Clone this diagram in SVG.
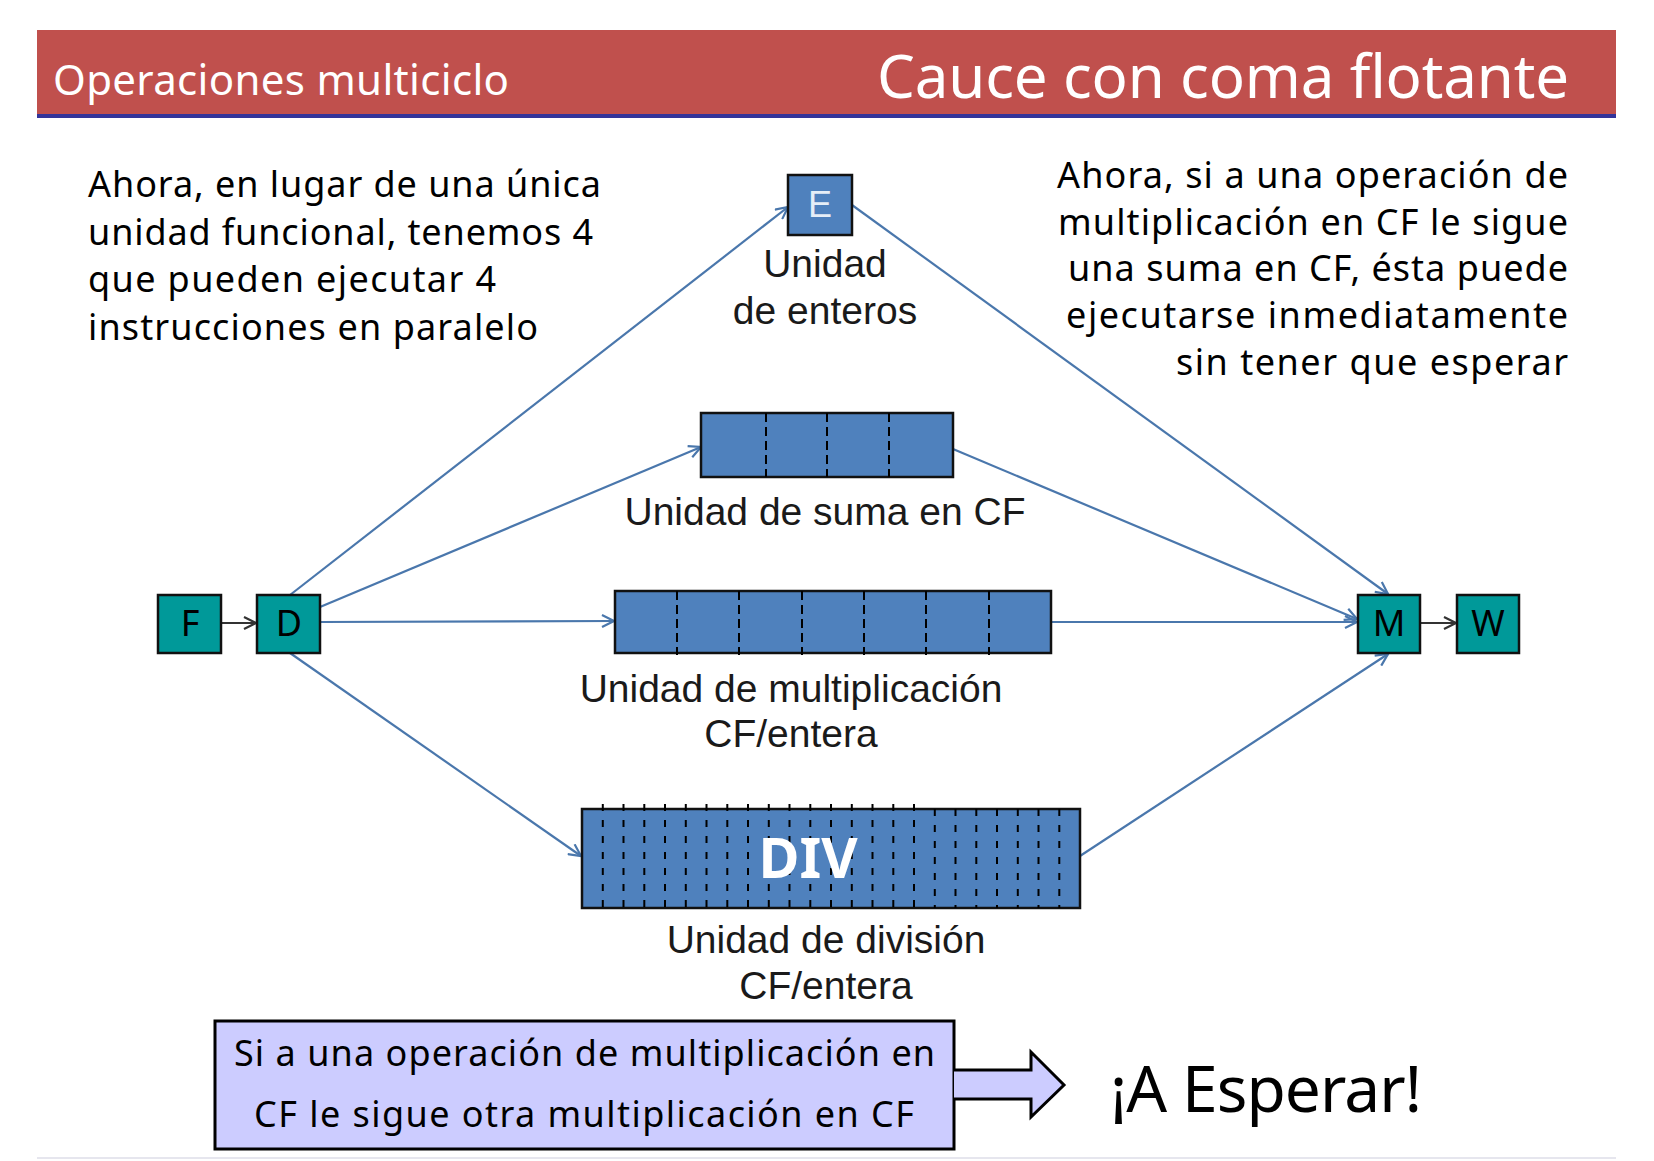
<svg xmlns="http://www.w3.org/2000/svg" width="1654" height="1161" viewBox="0 0 1654 1161">
<style>
.comic{font-family:"Comic Sans MS","Noto Sans",sans-serif;}
.arial{font-family:"Liberation Sans",Arial,sans-serif;fill:#1a1a1a;}
.teal{fill:#009999;stroke:#111;stroke-width:2.5;}
.blue{fill:#4F81BD;stroke:#111;stroke-width:2.5;}
.conn{stroke:#4A77AC;stroke-width:2.2;fill:none;}
.dark{stroke:#333;stroke-width:2.2;fill:none;}
.dash1{stroke:#000;stroke-width:2;stroke-dasharray:9 5;}
.dash2{stroke:#000;stroke-width:2;stroke-dasharray:7 9;}
.lbl{font-size:39px;text-anchor:middle;}
.par{font-size:36px;fill:#000;}
.stage{font-size:36px;fill:#000;text-anchor:middle;}
</style>
<defs>
<marker id="ab" viewBox="0 0 14 14" refX="13" refY="7" markerWidth="14" markerHeight="14" markerUnits="userSpaceOnUse" orient="auto">
<path d="M1,1 L13,7 L1,13" fill="none" stroke="#4A77AC" stroke-width="2.2"/>
</marker>
<marker id="ad" viewBox="0 0 14 14" refX="13" refY="7" markerWidth="14" markerHeight="14" markerUnits="userSpaceOnUse" orient="auto">
<path d="M1,1 L13,7 L1,13" fill="none" stroke="#333" stroke-width="2.2"/>
</marker>
</defs>
<rect width="1654" height="1161" fill="#fff"/>
<g id="header">
<rect x="37" y="30" width="1579" height="86" fill="#C0504D"/>
<rect x="37" y="114" width="1579" height="4" fill="#333399"/>
<text class="comic" x="53" y="95" font-size="42" fill="#fff" textLength="456">Operaciones multiciclo</text>
<text class="comic" x="877" y="98" font-size="60" fill="#fff" textLength="692">Cauce con coma flotante</text>
</g>
<g id="text-left" class="comic par">
<text x="88" y="197" textLength="513">Ahora, en lugar de una única</text>
<text x="88" y="245" textLength="505">unidad funcional, tenemos 4</text>
<text x="88" y="292" textLength="408">que pueden ejecutar 4</text>
<text x="88" y="340" textLength="450">instrucciones en paralelo</text>
</g>
<g id="text-right" class="comic par">
<text x="1057" y="188" textLength="511">Ahora, si a una operación de</text>
<text x="1058" y="235" textLength="510">multiplicación en CF le sigue</text>
<text x="1068" y="281" textLength="500">una suma en CF, ésta puede</text>
<text x="1066" y="328" textLength="502">ejecutarse inmediatamente</text>
<text x="1176" y="375" textLength="392">sin tener que esperar</text>
</g>
<g id="connectors">
<line class="dark" x1="221" y1="623" x2="256" y2="623" marker-end="url(#ad)"/>
<line class="dark" x1="1420" y1="623" x2="1456" y2="623" marker-end="url(#ad)"/>
<line class="conn" x1="290" y1="595" x2="788" y2="207" marker-end="url(#ab)"/>
<line class="conn" x1="852" y1="205" x2="1388" y2="594" marker-end="url(#ab)"/>
<line class="conn" x1="320" y1="607" x2="701" y2="447" marker-end="url(#ab)"/>
<line class="conn" x1="953" y1="449" x2="1357" y2="619" marker-end="url(#ab)"/>
<line class="conn" x1="320" y1="622" x2="614" y2="621" marker-end="url(#ab)"/>
<line class="conn" x1="1051" y1="622" x2="1357" y2="622" marker-end="url(#ab)"/>
<line class="conn" x1="290" y1="653" x2="581" y2="856" marker-end="url(#ab)"/>
<line class="conn" x1="1080" y1="856" x2="1388" y2="654" marker-end="url(#ab)"/>
</g>
<g id="node-F"><rect class="teal" x="158" y="595" width="63" height="58"/><text class="comic stage" x="190" y="636">F</text></g>
<g id="node-D"><rect class="teal" x="257" y="595" width="63" height="58"/><text class="comic stage" x="289" y="636">D</text></g>
<g id="node-M"><rect class="teal" x="1358" y="595" width="62" height="58"/><text class="comic stage" x="1389" y="636">M</text></g>
<g id="node-W"><rect class="teal" x="1457" y="595" width="62" height="58"/><text class="comic stage" x="1488" y="636">W</text></g>
<g id="node-E">
<rect class="blue" x="788" y="175" width="64" height="60"/>
<text class="arial" x="820" y="217" font-size="36" text-anchor="middle" style="fill:#E6EEF7">E</text>
<text class="arial lbl" x="825" y="277">Unidad</text>
<text class="arial lbl" x="825" y="324">de enteros</text>
</g>
<g id="node-suma">
<rect class="blue" x="701" y="413" width="252" height="64"/>
<line class="dash1" x1="766" y1="413" x2="766" y2="477"/>
<line class="dash1" x1="827" y1="413" x2="827" y2="477"/>
<line class="dash1" x1="889" y1="413" x2="889" y2="477"/>
<text class="arial lbl" x="825" y="525">Unidad de suma en CF</text>
</g>
<g id="node-mult">
<rect class="blue" x="615" y="591" width="436" height="62"/>
<line class="dash1" x1="677" y1="591" x2="677" y2="655"/>
<line class="dash1" x1="739" y1="591" x2="739" y2="655"/>
<line class="dash1" x1="802" y1="591" x2="802" y2="655"/>
<line class="dash1" x1="864" y1="591" x2="864" y2="655"/>
<line class="dash1" x1="926" y1="591" x2="926" y2="655"/>
<line class="dash1" x1="989" y1="591" x2="989" y2="655"/>
<text class="arial lbl" x="791" y="702">Unidad de multiplicación</text>
<text class="arial lbl" x="791" y="747">CF/entera</text>
</g>
<g id="node-div">
<rect class="blue" x="582" y="809" width="498" height="99"/>
<g class="dash2">
<line x1="602.8" y1="804" x2="602.8" y2="908"/>
<line x1="623.5" y1="804" x2="623.5" y2="908"/>
<line x1="644.3" y1="804" x2="644.3" y2="908"/>
<line x1="665" y1="804" x2="665" y2="908"/>
<line x1="685.8" y1="804" x2="685.8" y2="908"/>
<line x1="706.5" y1="804" x2="706.5" y2="908"/>
<line x1="727.3" y1="804" x2="727.3" y2="908"/>
<line x1="748" y1="804" x2="748" y2="908"/>
<line x1="768.8" y1="804" x2="768.8" y2="908"/>
<line x1="789.5" y1="804" x2="789.5" y2="908"/>
<line x1="810.3" y1="804" x2="810.3" y2="908"/>
<line x1="831" y1="804" x2="831" y2="908"/>
<line x1="851.8" y1="804" x2="851.8" y2="908"/>
<line x1="872.5" y1="804" x2="872.5" y2="908"/>
<line x1="893.3" y1="804" x2="893.3" y2="908"/>
<line x1="914" y1="804" x2="914" y2="908"/>
<line x1="934.8" y1="809" x2="934.8" y2="908"/>
<line x1="955.5" y1="809" x2="955.5" y2="908"/>
<line x1="976.3" y1="809" x2="976.3" y2="908"/>
<line x1="997" y1="809" x2="997" y2="908"/>
<line x1="1017.8" y1="809" x2="1017.8" y2="908"/>
<line x1="1038.5" y1="809" x2="1038.5" y2="908"/>
<line x1="1059.3" y1="809" x2="1059.3" y2="908"/>
</g>
<text class="comic" x="808" y="878" font-size="56" font-weight="bold" fill="#fff" text-anchor="middle">DIV</text>
<text class="arial lbl" x="826" y="953">Unidad de división</text>
<text class="arial lbl" x="826" y="999">CF/entera</text>
</g>
<g id="note-box">
<rect x="215" y="1021" width="739" height="128" fill="#CCCCFF" stroke="#000" stroke-width="3"/>
<text class="comic par" x="234" y="1066" textLength="701">Si a una operación de multiplicación en</text>
<text class="comic par" x="254" y="1127" textLength="660">CF le sigue otra multiplicación en CF</text>
</g>
<g id="block-arrow">
<path d="M954,1070 L1031,1070 L1031,1052 L1064,1085 L1031,1117 L1031,1099 L954,1099" fill="#CCCCFF" stroke="#000" stroke-width="3" stroke-linejoin="miter"/>
</g>
<g id="result">
<text class="comic" x="1110" y="1112" font-size="64" fill="#000" textLength="312">¡A Esperar!</text>
</g>
<line x1="37" y1="1158" x2="1616" y2="1158" stroke="#E6E6EE" stroke-width="2"/>
</svg>
